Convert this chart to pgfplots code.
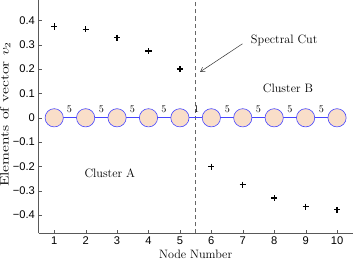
\documentclass[border=0pt]{standalone}
\usepackage{fontspec}
\usepackage{graphicx}
\usepackage{pgfplots}
\pgfplotsset{compat=1.18}
\usetikzlibrary{arrows.meta}
\newfontfamily\ticksf{Liberation Sans}
\definecolor{nodefill}{RGB}{249,222,201}
\definecolor{nodeedge}{RGB}{70,70,255}
\begin{document}
\begin{tikzpicture}
\begin{axis}[
 scale only axis, width=310pt, height=230pt,
 xmin=0.5, xmax=10.5, ymin=-0.475, ymax=0.483,
 axis lines*=left,
 axis line style={-, draw=black!65, line width=0.5pt},
 tick align=inside, major tick length=3pt,
 tick style={black!65},
 xtick={1,...,10},
 ytick={-0.4,-0.3,-0.2,-0.1,0,0.1,0.2,0.3,0.4},
 yticklabels={−0.4,−0.3,−0.2,−0.1,0,0.1,0.2,0.3,0.4},
 xticklabel style={font=\ticksf\fontsize{11}{13}\selectfont},
 yticklabel style={font=\ticksf\fontsize{11}{13}\selectfont},
 /pgf/number format/assume math mode=true,
 xlabel={Node Number},
 ylabel={\scalebox{1.3}[1]{Elements of vector $v_2$}},
 label style={font=\fontsize{12}{14}\selectfont, inner sep=0pt},
 xlabel style={at={(axis description cs:0.5,-0.09)}, anchor=center, inner sep=2pt},
 ylabel style={at={(axis description cs:-0.106,0.51)}, anchor=center},
 clip=false,
]
\addplot[black!60, dash pattern=on 4pt off 3pt, line width=0.5pt] coordinates {(5.5,-0.475) (5.5,0.483)};
\addplot[nodeedge, line width=0.8pt] coordinates {(1,0) (10,0)};
\addplot[only marks, mark=*, mark size=9pt, mark options={fill=nodefill, draw=nodeedge, line width=0.6pt}] coordinates {(1,0) (2,0) (3,0) (4,0) (5,0) (6,0) (7,0) (8,0) (9,0) (10,0)};
\addplot[only marks, mark=+, mark size=3pt, mark options={line width=1.3pt, black}] coordinates {
(1,0.375) (2,0.363) (3,0.329) (4,0.274) (5,0.200)
(6,-0.201) (7,-0.275) (8,-0.330) (9,-0.365) (10,-0.378)};
\node[font=\fontsize{10}{12}\selectfont] at (axis cs:1.48,0.036) {5};
\node[font=\fontsize{10}{12}\selectfont] at (axis cs:2.5,0.036) {5};
\node[font=\fontsize{10}{12}\selectfont] at (axis cs:3.49,0.036) {5};
\node[font=\fontsize{10}{12}\selectfont] at (axis cs:4.49,0.036) {5};
\node[font=\fontsize{10}{12}\selectfont] at (axis cs:5.53,0.036) {1};
\node[font=\fontsize{10}{12}\selectfont] at (axis cs:6.51,0.036) {5};
\node[font=\fontsize{10}{12}\selectfont] at (axis cs:7.5,0.036) {5};
\node[font=\fontsize{10}{12}\selectfont] at (axis cs:8.5,0.036) {5};
\node[font=\fontsize{10}{12}\selectfont] at (axis cs:9.5,0.036) {5};
\draw[-{Straight Barb[length=4pt,width=5pt]}, black!80, line width=0.5pt] (axis cs:6.99,0.304) -- (axis cs:5.645,0.189);
\node[font=\fontsize{12}{14}\selectfont] at (axis cs:8.32,0.32) {Spectral Cut};
\node[font=\fontsize{12}{14}\selectfont] at (axis cs:8.44,0.12) {Cluster B};
\node[font=\fontsize{12}{14}\selectfont] at (axis cs:2.77,-0.228) {Cluster A};
\end{axis}
\end{tikzpicture}
\end{document}
